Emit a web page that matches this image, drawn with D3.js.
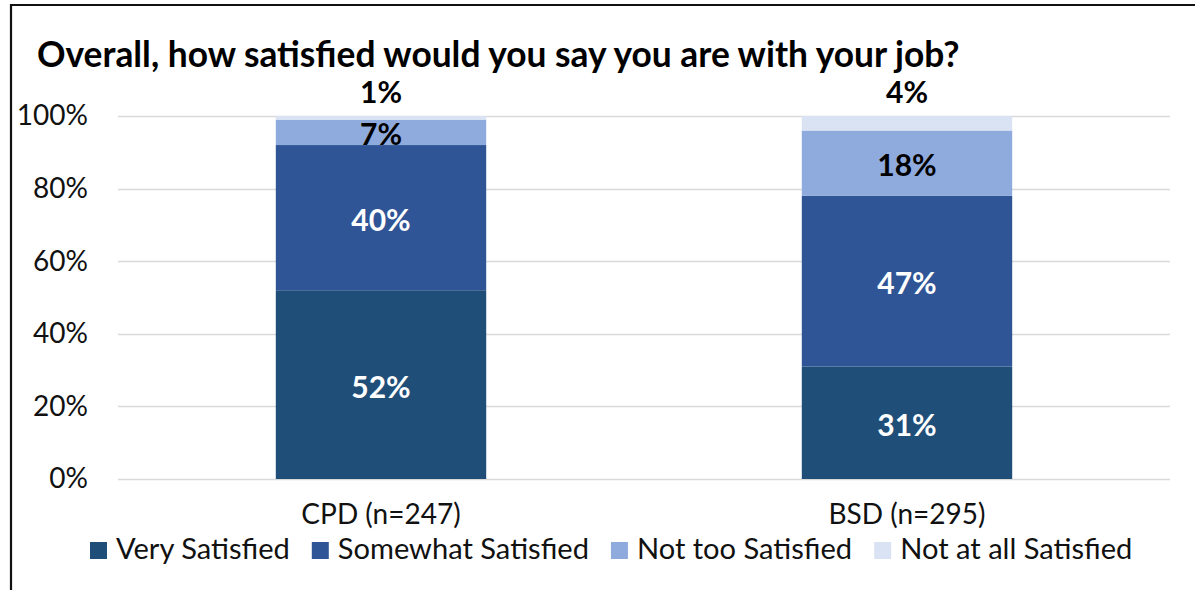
<!DOCTYPE html>
<html><head><meta charset="utf-8">
<script src="https://cdn.jsdelivr.net/npm/d3@7"></script>
<style>body{margin:0;background:#fff}svg{display:block}text{font-family:Lato,"Open Sans",sans-serif}</style>
</head><body><svg id="c" width="1195" height="590"></svg>
<script>
const categories = ["CPD (n=247)", "BSD (n=295)"];
const seriesNames = ["Very Satisfied", "Somewhat Satisfied", "Not too Satisfied", "Not at all Satisfied"];
const verySatisfied = [52, 31];
const somewhatSatisfied = [40, 47];
const notTooSatisfied = [7, 18];
const notAtAllSatisfied = [1, 4];
const yTicks = [0, 20, 40, 60, 80, 100];
const title = "Overall, how satisfied would you say you are with your job?";

const colors = ["#1F4E79", "#2F5597", "#8FAADC", "#DAE3F3"];
const labelColors = ["#fff", "#fff", "#000", "#000"];

const svg = d3.select("#c");
svg.append("path").attr("d", "M11,590 V5 H1195").attr("fill", "none").attr("stroke", "#111").attr("stroke-width", 2.2);

const m = {left: 118, right: 1170, top: 116, bottom: 479};
const x = d3.scaleBand().domain(categories).range([m.left, m.right]).paddingInner(0.6).paddingOuter(0.3);
const y = d3.scaleLinear().domain([0, 100]).range([m.bottom, m.top]);

const rows = categories.map((c, i) => ({cat: c, v0: verySatisfied[i], v1: somewhatSatisfied[i], v2: notTooSatisfied[i], v3: notAtAllSatisfied[i]}));
const stack = d3.stack().keys(["v0", "v1", "v2", "v3"])(rows);

svg.append("g").selectAll("line").data(yTicks).join("line")
  .attr("x1", m.left).attr("x2", m.right)
  .attr("y1", d => Math.round(y(d)) + 0.5).attr("y2", d => Math.round(y(d)) + 0.5)
  .attr("stroke", "#d9d9d9").attr("stroke-width", 1.5);

const yAxis = svg.append("g").attr("transform", `translate(${m.left - 30},0)`)
  .call(d3.axisLeft(y).tickValues(yTicks).tickFormat(d => d + "%").tickSize(0).tickPadding(0));
yAxis.select(".domain").remove();
yAxis.selectAll("text").attr("font-size", 28).attr("fill", "#111").attr("font-family", "Lato");

stack.forEach((s, k) => {
  svg.append("g").selectAll("rect").data(s).join("rect")
    .attr("x", d => x(d.data.cat)).attr("width", x.bandwidth())
    .attr("y", d => y(d[1])).attr("height", d => y(d[0]) - y(d[1]))
    .attr("fill", colors[k]);
});

stack.forEach((s, k) => {
  svg.append("g").selectAll("text").data(s).join("text")
    .attr("x", d => x(d.data.cat) + x.bandwidth() / 2)
    .attr("y", d => k === 3 ? y(100) - 25 : (y(d[0]) + y(d[1])) / 2 + 1)
    .attr("text-anchor", "middle").attr("dominant-baseline", "central")
    .attr("font-weight", "bold").attr("font-size", 30)
    .attr("fill", labelColors[k])
    .text(d => (d[1] - d[0]) + "%");
});

const xAxis = svg.append("g").attr("transform", `translate(0,${m.bottom + 25})`)
  .call(d3.axisBottom(x).tickSize(0).tickPadding(0));
xAxis.select(".domain").remove();
xAxis.selectAll("text").attr("font-size", 28).attr("fill", "#111").attr("font-family", "Lato");

const t = svg.append("text").attr("x", 37).attr("y", 67).attr("font-weight", "bold").attr("font-size", 28).attr("fill", "#000").text(title);
const tw = t.node().getComputedTextLength();
t.attr("font-size", 28 * 923 / tw);

// legend, font fitted to the reference span
const gap = 22, box = 17, tgap = 9, target = 1043;
const lg = svg.append("g");
const texts = seriesNames.map((n, i) => lg.append("text").attr("font-size", 25).attr("fill", "#111").text(n));
const w0 = d3.sum(texts, tt => tt.node().getComputedTextLength());
const fs = 25 * (target - seriesNames.length * (box + tgap) - gap * (seriesNames.length - 1)) / w0;
texts.forEach(tt => tt.attr("font-size", fs));
let cx = 90;
texts.forEach((tt, i) => {
  lg.append("rect").attr("x", cx).attr("y", 542).attr("width", box).attr("height", box).attr("fill", colors[i]);
  tt.attr("x", cx + box + tgap).attr("y", 559);
  cx += box + tgap + tt.node().getComputedTextLength() + gap;
});
</script></body></html>
